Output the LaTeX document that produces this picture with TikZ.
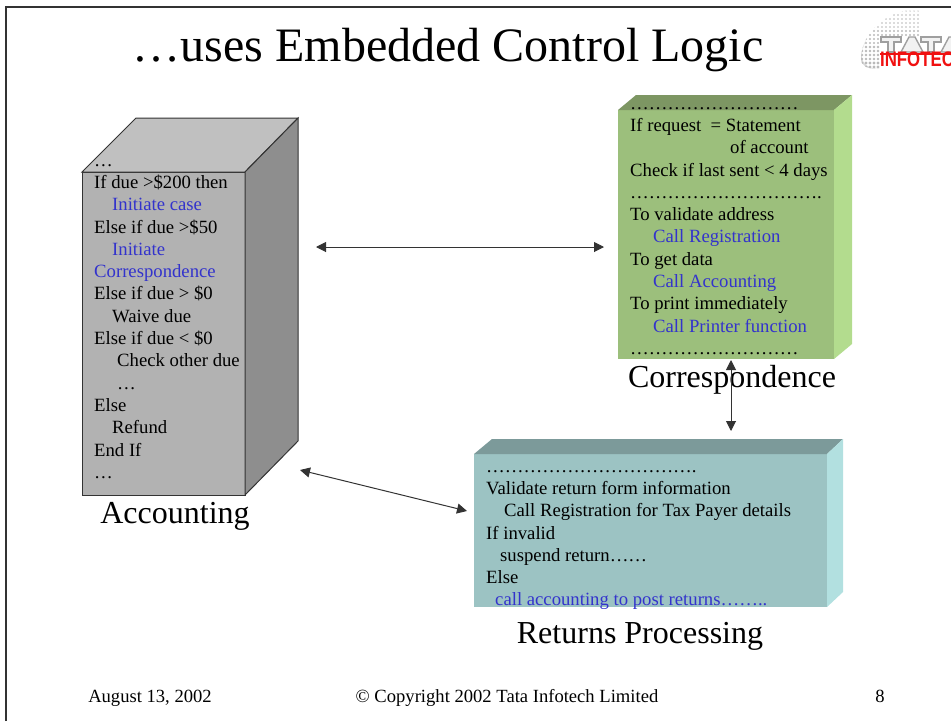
\documentclass[tikz,border=0pt]{standalone}
\usepackage{fontspec}
\setmainfont{Liberation Serif}
\newfontfamily\logofont{Liberation Sans}
\usetikzlibrary{arrows.meta}
\definecolor{framegray}{HTML}{333333}
\definecolor{codeblue}{HTML}{3333CC}
\definecolor{acctfrontc}{HTML}{B2B2B2}
\definecolor{accttopc}{HTML}{C0C0C0}
\definecolor{acctsidec}{HTML}{8E8E8E}
\definecolor{corrfrontc}{HTML}{9CBF7C}
\definecolor{corrtopc}{HTML}{7D9663}
\definecolor{corrsidec}{HTML}{B3DC8E}
\definecolor{retfrontc}{HTML}{9CC3C3}
\definecolor{rettopc}{HTML}{7C9A9A}
\definecolor{retsidec}{HTML}{B2E0E0}
\definecolor{logored}{HTML}{F01010}
\newcommand{\calltext}[1]{\textcolor{codeblue}{#1}}
\newcommand{\dotrow}[1]{\foreach \n in {1,...,#1}{…}}
\begin{document}
\begin{tikzpicture}[
        x=1pt,y=-1pt,
        front/.style={anchor=north west,inner sep=0pt,outer sep=0pt},
        codetext/.style={anchor=north west,inner sep=0pt,align=left,
          font=\fontsize{18.7}{22.3}\selectfont,execute at begin node={\rule{0pt}{13pt}}},
        boxlabel/.style={inner sep=0pt,font=\fontsize{32}{36}\selectfont},
        footer/.style={inner sep=0pt,font=\fontsize{18.6}{20}\selectfont},
        biarrow/.style={{Triangle[length=10pt,width=10pt]}-{Triangle[length=10pt,width=10pt]},
          draw=framegray,line width=1pt},
      ]
      \useasboundingbox (0,0) rectangle (951,721);
      \draw[framegray,line width=1.2pt] (6,721) -- (6,7) -- (951,7);
      \node[inner sep=0pt,font=\fontsize{48}{52}\selectfont] (title) at (448,50) {…uses Embedded Control Logic};

      % logo
      \begin{scope}
        \clip (919,9) .. controls (890,9) and (862,30) .. (861,58) .. controls (861,66) and (866,69) .. (880,69) -- (880,37) -- (919,37) -- cycle;
        \fill[gray!30] (866,40) .. controls (858,55) and (860,69) .. (880,69) -- (866,69) -- (858,60) -- cycle;
        \foreach \y in {11,15,...,69}
        \foreach \x in {858,862,...,920}
        {
          \pgfmathsetmacro{\dotsize}{0.7+0.9*(\y-8)/60}
          \fill[gray!55] (\x,\y) circle (\dotsize pt);
        }
      \end{scope}
      \begin{scope}
        \clip (880,30) rectangle (951,72);
        \foreach \x in {881,921}
        \draw[fill=gray!10,draw=gray!75,line width=1.4pt] (\x,37) -- ++(20,0) -- ++(0,5) -- ++(-7,0) -- ++(0,10) -- ++(-6,0) -- ++(0,-10) -- ++(-7,0) -- cycle;
        \foreach \x in {901,941}
        \draw[fill=gray!10,draw=gray!75,line width=1.4pt] (\x,52) -- ++(8,-15) -- ++(6,0) -- ++(8,15) -- cycle;
        \fill[logored] (880,53) rectangle (951,55);
        \node[anchor=north west,inner sep=0pt,text=logored,xscale=0.8,transform shape,font=\logofont\bfseries\fontsize{21}{21}\selectfont] (logotext) at (880,52) {INFOTECH};
      \end{scope}

      % accounting
      \node[front,fill=acctfrontc,draw=framegray,line width=1pt,minimum width=163pt,minimum height=323pt] (acctfront) at (82,172) {};
      \draw[fill=accttopc,draw=framegray,line width=1pt] (acctfront.north west) -- ++(54,-54) -- ++(162,0) -- (acctfront.north east) -- cycle;
      \draw[fill=acctsidec,draw=framegray,line width=1pt] (acctfront.north east) -- ++(53,-54) -- ++(0,323) -- (acctfront.south east) -- cycle;
      \node[codetext] (accttext) at (94,164) {…\\
        If due >\$200 then\\
        \hspace*{18pt}\calltext{Initiate case}\\
        Else if due >\$50\\
        \hspace*{18pt}\calltext{Initiate}\\
        \calltext{Correspondence}\\
        Else if due > \$0\\
        \hspace*{18pt}Waive due\\
        Else if due < \$0\\
        \hspace*{23pt}Check other due\\
        \hspace*{23pt}…\\
        Else\\
        \hspace*{18pt}Refund\\
        End If\\
        …};
      \node[boxlabel] (acctlabel) at (175,516) {Accounting};

      % correspondence
      \node[front,fill=corrfrontc,minimum width=216pt,minimum height=249pt] (corrfront) at (618,110) {};
      \fill[corrtopc] (corrfront.north west) -- ++(18,-15) -- ++(216,0) -- (corrfront.north east) -- cycle;
      \fill[corrsidec] (corrfront.north east) -- ++(18,-15) -- ++(0,249) -- (corrfront.south east) -- cycle;
      \node[codetext] (corrtext) at (630,107) {\dotrow{9}\\
        If request\ \ = Statement\\
        \hspace*{100pt}of account\\
        Check if last sent < 4 days\\
        \dotrow{10}.\\
        To validate address\\
        \hspace*{23pt}\calltext{Call Registration}\\
        To get data\\
        \hspace*{23pt}\calltext{Call Accounting}\\
        To print immediately\\
        \hspace*{23pt}\calltext{Call Printer function}\\
        \dotrow{9}};
      \node[boxlabel] (corrlabel) at (732,380) {Correspondence};

      % returns
      \node[front,fill=retfrontc,minimum width=353pt,minimum height=153pt] (retfront) at (474,454) {};
      \fill[rettopc] (retfront.north west) -- ++(18,-15) -- ++(351,0) -- (retfront.north east) -- cycle;
      \fill[retsidec] (retfront.north east) -- ++(16,-15) -- ++(0,153) -- (retfront.south east) -- cycle;
      \node[codetext] (rettext) at (486,470) {\dotrow{11}.\\
        Validate return form information\\
        \hspace*{18pt}Call Registration for Tax Payer details\\
        If invalid\\
        \hspace*{14pt}suspend return……\\
        Else\\
        \hspace*{9pt}\calltext{call accounting to post returns……..}};
      \node[boxlabel] (retlabel) at (640,636) {Returns Processing};

      \coordinate (acctright) at (316,247);
      \coordinate (corrleft) at (604,247);
      \coordinate (corrbottom) at (731,360);
      \coordinate (rettop) at (731,431);
      \coordinate (acctcorner) at (300,470);
      \coordinate (retleft) at (467,511);
      \draw[biarrow] (acctright) -- (corrleft);
      \draw[biarrow] (corrbottom) -- (rettop);
      \draw[biarrow] (acctcorner) -- (retleft);

      \node[footer] (datefoot) at (150,698) {August 13, 2002};
      \node[footer] (copyfoot) at (507,698) {© Copyright 2002 Tata Infotech Limited};
      \node[footer] (pagefoot) at (880,696) {8};
\end{tikzpicture}
\end{document}
